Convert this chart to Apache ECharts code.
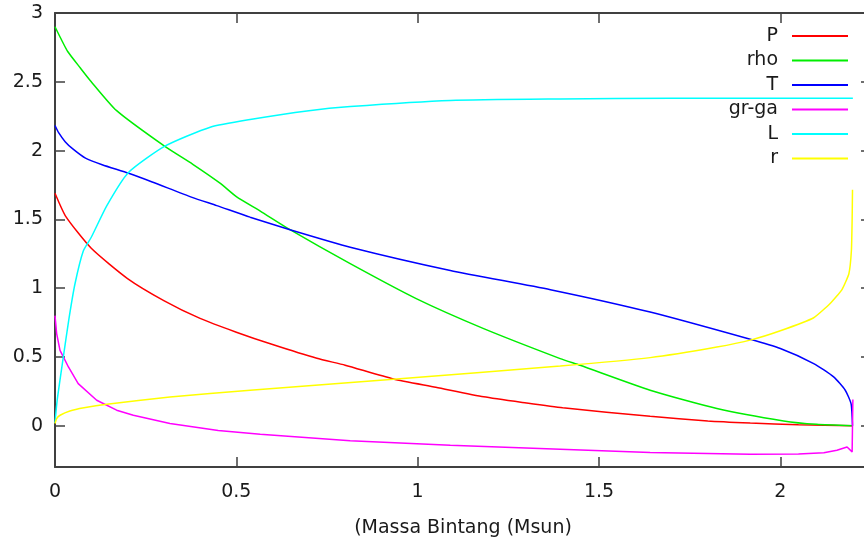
<!DOCTYPE html>
<html>
<head>
<meta charset="utf-8">
<script src="https://cdn.jsdelivr.net/npm/echarts@6/dist/echarts.min.js"></script>
<style>html,body{margin:0;padding:0;background:#fff}#c{width:864px;height:544px}</style>
</head>
<body>
<div id="c"></div>
<script>
// Series values as [Massa (Msun), value] pairs
const P = [[0,1.69],[0.03,1.52],[0.1,1.29],[0.2,1.07],[0.3,0.91],[0.4,0.78],[0.5,0.68],[0.6,0.59],[0.722,0.49],[0.8,0.44],[0.933,0.34],[1.05,0.28],[1.182,0.21],[1.3,0.165],[1.4,0.13],[1.641,0.069],[1.8,0.035],[1.917,0.02],[2.05,0.007],[2.199,0]];
const rho = [[0,2.90],[0.015,2.82],[0.035,2.72],[0.07,2.60],[0.097,2.51],[0.17,2.29],[0.303,2.03],[0.38,1.90],[0.455,1.763],[0.5,1.665],[0.566,1.56],[0.648,1.425],[0.814,1.178],[0.996,0.924],[1.182,0.706],[1.393,0.488],[1.448,0.439],[1.641,0.258],[1.825,0.125],[2.009,0.035],[2.1,0.01],[2.199,0]];
const T = [[0,2.182],[0.01,2.13],[0.028,2.065],[0.05,2.01],[0.084,1.945],[0.13,1.897],[0.203,1.835],[0.268,1.772],[0.378,1.66],[0.446,1.60],[0.538,1.516],[0.648,1.425],[0.814,1.298],[1.09,1.129],[1.366,0.989],[1.641,0.826],[1.917,0.628],[2.0,0.561],[2.092,0.452],[2.147,0.355],[2.179,0.258],[2.195,0.161],[2.198,0.064],[2.199,0]];
const grga = [[0,0.80],[0.0046,0.67],[0.0138,0.548],[0.023,0.50],[0.037,0.427],[0.064,0.306],[0.115,0.185],[0.17,0.113],[0.216,0.076],[0.317,0.016],[0.45,-0.035],[0.566,-0.062],[0.814,-0.11],[1.09,-0.142],[1.393,-0.171],[1.641,-0.195],[1.917,-0.207],[2.05,-0.205],[2.12,-0.197],[2.156,-0.178],[2.184,-0.154],[2.198,-0.19],[2.2,0.19]];
const L = [[0,0.02],[0.006,0.185],[0.023,0.50],[0.038,0.77],[0.055,1.03],[0.078,1.27],[0.1,1.37],[0.143,1.60],[0.202,1.839],[0.303,2.032],[0.428,2.17],[0.538,2.226],[0.7,2.29],[0.814,2.32],[1.09,2.364],[1.393,2.375],[1.7,2.38],[2.2,2.38]];
const r = [[0,0.016],[0.0046,0.052],[0.014,0.076],[0.041,0.107],[0.08,0.13],[0.143,0.156],[0.317,0.209],[0.538,0.258],[0.933,0.338],[1.393,0.434],[1.641,0.495],[1.825,0.572],[1.922,0.626],[2.0,0.69],[2.092,0.785],[2.138,0.89],[2.17,0.99],[2.189,1.105],[2.196,1.275],[2.198,1.5],[2.199,1.715]];

const seriesNames = ['P','rho','T','gr-ga','L','r'];
const seriesData = [P, rho, T, grga, L, r];
const seriesColors = ['#ff0000','#00ee00','#0000ff','#ff00ff','#00ffff','#ffff00'];
const seriesSmooth = [0.2, 0.2, 0.2, 0, 0.2, 0.15];

const xTicks = [0,0.5,1,1.5,2];
const yTicks = [0,0.5,1,1.5,2,2.5,3];
const xTitle = '(Massa Bintang (Msun)';

const FONT = 'DejaVu Sans';
const FS = 19;
const axisColor = '#404040';
const textColor = '#1a1a1a';

function axisBase(showLabels, ticks, margin) {
  return {
    axisLine: {show: true, onZero: false, lineStyle: {color: axisColor, width: 2}},
    axisTick: {show: true, inside: true, length: 10, customValues: ticks, lineStyle: {color: axisColor, width: 1.5}},
    axisLabel: {show: showLabels, customValues: ticks, margin: margin || 8, color: textColor, fontFamily: FONT, fontSize: FS},
    splitLine: {show: false}
  };
}

const chart = echarts.init(document.getElementById('c'), null, {renderer: 'canvas'});
chart.setOption({
  animation: false,
  backgroundColor: '#ffffff',
  grid: {left: 55, width: 816, top: 13, bottom: 77, show: false, containLabel: false, outerBoundsMode: 'none'},
  legend: {
    data: seriesNames,
    orient: 'vertical',
    right: 11,
    top: 21,
    align: 'right',
    icon: 'rect',
    itemWidth: 56,
    itemHeight: 2,
    itemGap: 4.5,
    textStyle: {color: textColor, fontFamily: FONT, fontSize: FS, lineHeight: 20, padding: [0, 9, 0, 0]}
  },
  xAxis: [
    Object.assign({type: 'value', position: 'bottom', min: 0, max: 2.25,
      name: xTitle, nameLocation: 'middle', nameGap: 52,
      nameTextStyle: {color: textColor, fontFamily: FONT, fontSize: FS}}, axisBase(true, xTicks, 16)),
    Object.assign({type: 'value', position: 'top', min: 0, max: 2.25}, axisBase(false, xTicks))
  ],
  yAxis: [
    Object.assign({type: 'value', position: 'left', min: -0.3, max: 3}, axisBase(true, yTicks, 12)),
    Object.assign({type: 'value', position: 'right', min: -0.3, max: 3}, axisBase(false, yTicks))
  ],
  series: seriesNames.map((n, i) => ({
    name: n,
    type: 'line',
    xAxisIndex: 0,
    yAxisIndex: 0,
    data: seriesData[i],
    showSymbol: false,
    symbol: 'none',
    smooth: seriesSmooth[i],
    color: seriesColors[i],
    lineStyle: {color: seriesColors[i], width: 1.5}
  }))
});
</script>
</body>
</html>
